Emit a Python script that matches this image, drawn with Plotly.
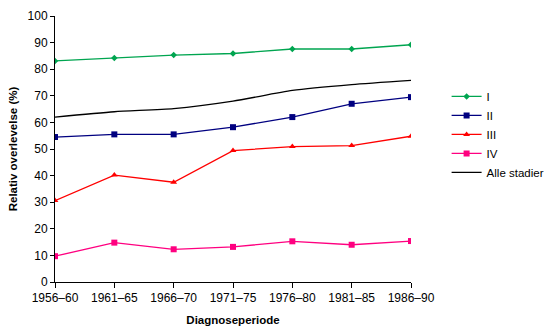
import plotly.graph_objects as go

periods = ["1956\u201360", "1961\u201365", "1966\u201370", "1971\u201375", "1976\u201380", "1981\u201385", "1986\u201390"]
stage_I = [83.1, 84.2, 85.3, 85.9, 87.6, 87.6, 89.2]
stage_II = [54.5, 55.5, 55.5, 58.2, 62.0, 67.0, 69.5]
stage_III = [30.6, 40.2, 37.5, 49.4, 50.9, 51.3, 54.8]
stage_IV = [9.7, 14.8, 12.3, 13.2, 15.3, 14.0, 15.4]
all_stages = [62.0, 64.0, 65.2, 68.0, 72.0, 74.2, 75.8]

xs = list(range(len(periods)))

series = [
    ("I", stage_I, "#00A550", "diamond", 5),
    ("II", stage_II, "#000080", "square", 6),
    ("III", stage_III, "#FF0000", "triangle-up", 6),
    ("IV", stage_IV, "#FF0080", "square", 6),
]

fig = go.Figure()
for name, vals, color, sym, size in series:
    fig.add_trace(go.Scatter(
        x=xs, y=vals, name=name, mode="lines+markers",
        line=dict(color=color, width=1.3),
        marker=dict(symbol=sym, size=size, color=color),
    ))
fig.add_trace(go.Scatter(
    x=xs, y=all_stages, name="Alle stadier", mode="lines",
    line=dict(color="black", width=1.3, shape="spline", smoothing=0.6),
))

font = "Liberation Sans, Arial, sans-serif"
fig.update_layout(
    width=548, height=336,
    margin=dict(l=55, r=137, t=16, b=54, autoexpand=False),
    plot_bgcolor="white", paper_bgcolor="white",
    font=dict(family=font, size=12, color="black"),
    showlegend=True,
    legend=dict(x=1.1, y=0.752, xanchor="left", yanchor="top",
                font=dict(size=11.5), tracegroupgap=0, itemwidth=30,
                bgcolor="rgba(0,0,0,0)"),
    xaxis=dict(
        range=[0, 6], tickvals=xs, ticktext=periods,
        showline=True, linecolor="black", linewidth=1,
        ticks="outside", ticklen=5, tickcolor="black",
        showgrid=False, zeroline=False,
        title=dict(text="<b>Diagnoseperiode</b>", standoff=11, font=dict(size=11.5)),
        tickfont=dict(size=12),
    ),
    yaxis=dict(
        range=[0, 100], dtick=10,
        showline=True, linecolor="black", linewidth=1,
        ticks="outside", ticklen=4, tickcolor="black",
        showgrid=False, zeroline=False,
        title=dict(text="<b>Relativ overlevelse (%)</b>", standoff=7, font=dict(size=11.5)),
        tickfont=dict(size=12),
    ),
)

fig.write_html("out.html")
